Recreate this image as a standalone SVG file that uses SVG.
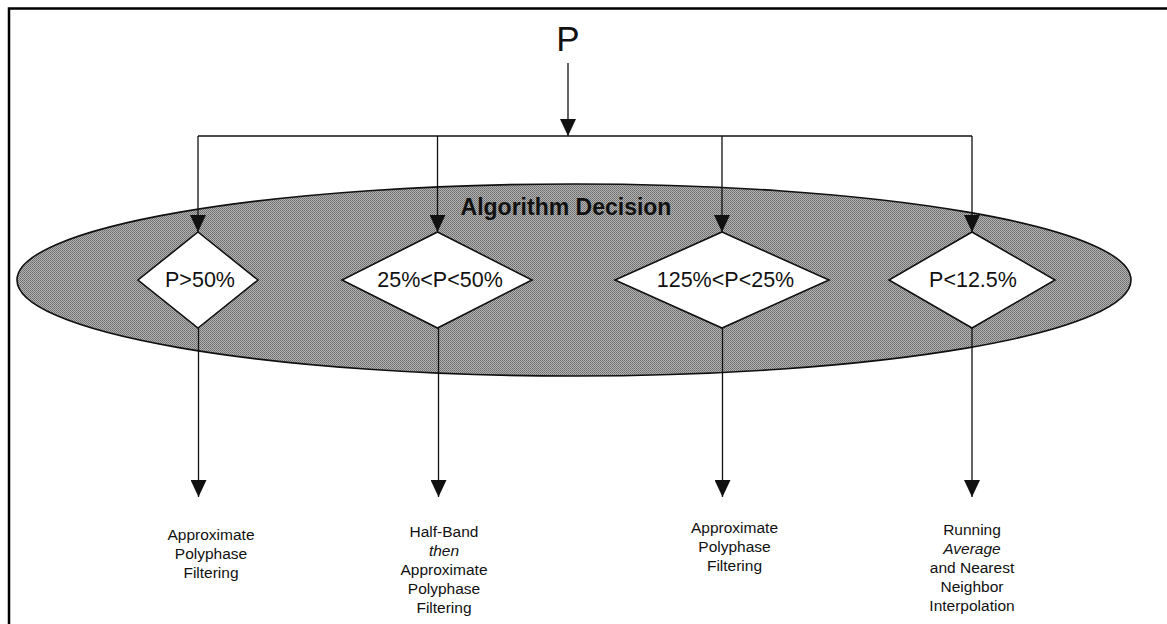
<svg xmlns="http://www.w3.org/2000/svg" width="1167" height="624" viewBox="0 0 1167 624">
  <style>
    .frame { stroke: #000; stroke-width: 2.5; fill: none; }
    .wire { stroke: #111; stroke-width: 1.3; fill: none; }
    .arrow { stroke: #111; stroke-width: 1.3; fill: none; marker-end: url(#head); }
    .zone { fill: url(#halftone); stroke: #111; stroke-width: 1.6; }
    .cond { fill: #fff; stroke: #111; stroke-width: 1.6; }
    .cond-text { font-family: "Liberation Sans", Arial, sans-serif; font-size: 21.5px; fill: #111; text-anchor: middle; }
    .title { font-family: "Liberation Sans", Arial, sans-serif; font-size: 35px; fill: #111; text-anchor: middle; }
    .zone-text { font-family: "Liberation Sans", Arial, sans-serif; font-size: 23px; font-weight: bold; fill: #111; text-anchor: middle; }
    .out-text { font-family: "Liberation Sans", Arial, sans-serif; font-size: 15.5px; fill: #111; text-anchor: middle; }
    .it { font-style: italic; }
  </style>
  <defs>
    <marker id="head" markerUnits="userSpaceOnUse" markerWidth="17" markerHeight="16" viewBox="0 0 17 16" refX="17" refY="8" orient="auto">
      <path d="M0,0 L17,8 L0,16 Z" fill="#111"/>
    </marker>
    <!-- fine dot screen for the shaded decision zone -->
    <pattern id="halftone" patternUnits="userSpaceOnUse" width="2" height="2">
      <rect width="2" height="2" fill="#b4b4b4"/>
      <rect width="1" height="1" fill="#6a6a6a"/>
      <rect x="1" y="1" width="1" height="1" fill="#7a7a7a"/>
    </pattern>
  </defs>

  <rect width="1167" height="624" fill="#fff"/>

  <!-- page frame (top and left edges) -->
  <path class="frame" d="M9,624 L9,8.5 L1167,8.5"/>

  <!-- decision zone -->
  <g id="algorithm-decision">
    <ellipse class="zone" cx="574" cy="280" rx="557" ry="96"/>
    <text class="zone-text" x="566" y="215">Algorithm Decision</text>
  </g>

  <g id="input-p">
    <text class="title" x="568" y="51">P</text>
  </g>

  <!-- connectors -->
  <g id="connectors">
    <line class="arrow" x1="568" y1="63" x2="568" y2="136"/>
    <line class="wire" x1="198" y1="136" x2="972" y2="136"/>
    <line class="arrow" x1="198" y1="136" x2="198" y2="232"/>
    <line class="arrow" x1="437.5" y1="136" x2="437.5" y2="232"/>
    <line class="arrow" x1="722" y1="136" x2="722" y2="232"/>
    <line class="arrow" x1="972" y1="136" x2="972" y2="232"/>
    <line class="arrow" x1="198.5" y1="328" x2="198.5" y2="497"/>
    <line class="arrow" x1="438.5" y1="328" x2="438.5" y2="497"/>
    <line class="arrow" x1="722.5" y1="328" x2="722.5" y2="497"/>
    <line class="arrow" x1="972" y1="328" x2="972" y2="497"/>
  </g>

  <!-- decision diamonds -->
  <g id="cond-gt50">
    <polygon class="cond" points="198,232 258,280 198,328 138,280"/>
    <text class="cond-text" x="200" y="287">P&gt;50%</text>
  </g>
  <g id="cond-25-50">
    <polygon class="cond" points="437.5,232 532,280 437.5,328 342,280"/>
    <text class="cond-text" x="440" y="287">25%&lt;P&lt;50%</text>
  </g>
  <g id="cond-125-25">
    <polygon class="cond" points="722,232 829,280 722,328 615,280"/>
    <text class="cond-text" x="725.5" y="287">125%&lt;P&lt;25%</text>
  </g>
  <g id="cond-lt125">
    <polygon class="cond" points="972,232 1055,280 972,328 889,280"/>
    <text class="cond-text" x="973" y="287">P&lt;12.5%</text>
  </g>

  <!-- outcomes -->
  <g id="out-polyphase-1">
    <text class="out-text" x="211" y="540">Approximate</text>
    <text class="out-text" x="211" y="559">Polyphase</text>
    <text class="out-text" x="211" y="578">Filtering</text>
  </g>
  <g id="out-halfband">
    <text class="out-text" x="444" y="537">Half-Band</text>
    <text class="out-text it" x="444" y="556">then</text>
    <text class="out-text" x="444" y="575">Approximate</text>
    <text class="out-text" x="444" y="594">Polyphase</text>
    <text class="out-text" x="444" y="613">Filtering</text>
  </g>
  <g id="out-polyphase-2">
    <text class="out-text" x="734.5" y="533">Approximate</text>
    <text class="out-text" x="734.5" y="552">Polyphase</text>
    <text class="out-text" x="734.5" y="571">Filtering</text>
  </g>
  <g id="out-running-average">
    <text class="out-text" x="972" y="535">Running</text>
    <text class="out-text it" x="972" y="554">Average</text>
    <text class="out-text" x="972" y="573">and Nearest</text>
    <text class="out-text" x="972" y="592">Neighbor</text>
    <text class="out-text" x="972" y="611">Interpolation</text>
  </g>
</svg>
